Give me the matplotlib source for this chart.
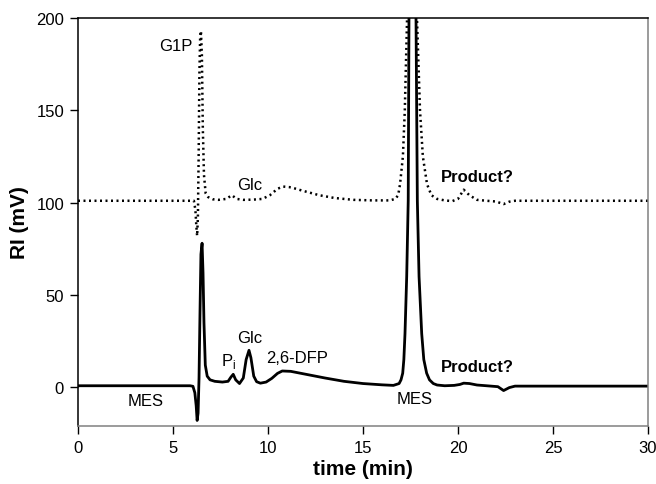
import matplotlib
matplotlib.use("Agg")
import matplotlib.pyplot as plt

plt.rcParams['font.family'] = ['Liberation Sans', 'DejaVu Sans']

# Solid trace (reaction sample)
solid_t = [0, 5.9, 6.05, 6.15, 6.22, 6.27, 6.32, 6.37, 6.42, 6.47, 6.53, 6.58, 6.63, 6.7, 6.8, 6.95,
           7.2, 7.6, 7.9, 8.05, 8.17, 8.3, 8.5, 8.7, 8.85, 9.0, 9.1, 9.25, 9.4, 9.6, 9.9,
           10.2, 10.5, 10.75, 11.2, 12.0, 13.0, 14.0, 15.0, 16.0, 16.6, 16.9, 17.0, 17.09,
           17.15, 17.21, 17.3, 17.38, 17.42, 17.5, 17.6, 17.7, 17.79, 17.86, 17.95, 18.09,
           18.2, 18.35, 18.5, 18.7, 18.9, 19.3, 19.8,
           20.1, 20.3, 20.6, 21.0, 21.5, 22.1, 22.4, 22.7, 23.0, 30]
solid_v = [0.8, 0.8, 0.5, -3, -10, -18, -14, 5, 40, 72, 78, 62, 35, 12, 6, 4,
           3.2, 2.8, 3.2, 5.5, 7, 4, 2.0, 5, 15, 20, 16, 6, 3, 2.2, 2.8,
           4.8, 7.5, 8.8, 8.6, 7.0, 5.0, 3.2, 2.0, 1.3, 1.0, 2, 4, 7.6,
           15, 29, 60, 101, 200, 400, 500, 400, 200, 101, 60, 29,
           15, 7.6, 4, 2, 1.2, 0.8, 1.0,
           1.5, 2.2, 2.0, 1.2, 0.8, 0.3, -1.8, -0.2, 0.6, 0.6]

# Dotted trace (G1P control)
dot_t = [0, 6.1, 6.18, 6.23, 6.27, 6.31, 6.35, 6.39, 6.43, 6.47, 6.52, 6.57, 6.63, 6.72, 6.85,
         7.1, 7.4, 7.8, 8.1, 8.35, 8.7, 9.2, 9.7, 10.1, 10.5, 10.8, 11.2, 11.8, 12.7, 13.5,
         14.5, 15.5, 16.4, 16.7, 16.85, 16.95, 17.1, 17.2, 17.32, 17.45, 17.6, 17.72, 17.84,
         18.0, 18.15, 18.37, 18.6, 18.9, 19.3, 19.7, 20.0, 20.3, 20.6, 21.0, 21.5, 22.0,
         22.4, 22.7, 23.0, 30]
dot_v = [101, 101, 96, 87, 82, 92, 125, 170, 190, 193, 180, 140, 115, 105, 103,
         101.8, 101.5, 102, 104, 102, 101.5, 101.6, 102, 104, 107.5, 108.7, 108.3, 106.5, 104, 102.5,
         101.5, 101.2, 101.2, 102, 104, 110, 125, 150, 200, 280, 320, 280, 200,
         150, 125, 110, 104, 102, 101.2, 100.8, 102, 107, 104, 101.5, 101, 100.6,
         99.2, 100.5, 101, 101]

labels = [
    ("MES", 3.55, -7, False),
    ("Glc", 9.05, 27, False),
    ("2,6-DFP", 11.55, 16, False),
    ("MES", 17.7, -6, False),
    ("Product?", 21.0, 11, True),
    ("G1P", 5.15, 185, False),
    ("Glc", 9.05, 110, False),
    ("Product?", 21.0, 114, True),
]

fig = plt.figure(figsize=(6.56, 4.85), dpi=100)
ax = fig.add_axes([78/656, 1-427/485, (648-78)/656, (427-19)/485])

ax.plot(solid_t, solid_v, color='black', lw=2.0, solid_joinstyle='round')
ax.plot(dot_t, dot_v, color='black', lw=1.8, linestyle=(0, (0.8, 1.4)))

for txt, x, y, bold in labels:
    ax.text(x, y, txt, ha='center', va='center', fontsize=12,
            fontweight='bold' if bold else 'normal')
ax.text(7.9, 14.5, r"P$_\mathregular{i}$", ha='center', va='center', fontsize=12)

ax.set_xlim(0, 30)
ax.set_ylim(-21, 200)
ax.set_xticks([0, 5, 10, 15, 20, 25, 30])
ax.set_yticks([0, 50, 100, 150, 200])
ax.tick_params(direction='out', length=6, width=1, labelsize=12, pad=4)
ax.spines['left'].set_color('black')
ax.spines['top'].set_color('black')
ax.spines['right'].set_color('#808080')
ax.spines['bottom'].set_color('#808080')
for s in ax.spines.values():
    s.set_linewidth(1.1)
ax.set_xlabel("time (min)", fontsize=15, fontweight='bold', labelpad=3)
ax.set_ylabel("RI (mV)", fontsize=15, fontweight='bold', labelpad=5)

fig.savefig("out.png", dpi=100)
